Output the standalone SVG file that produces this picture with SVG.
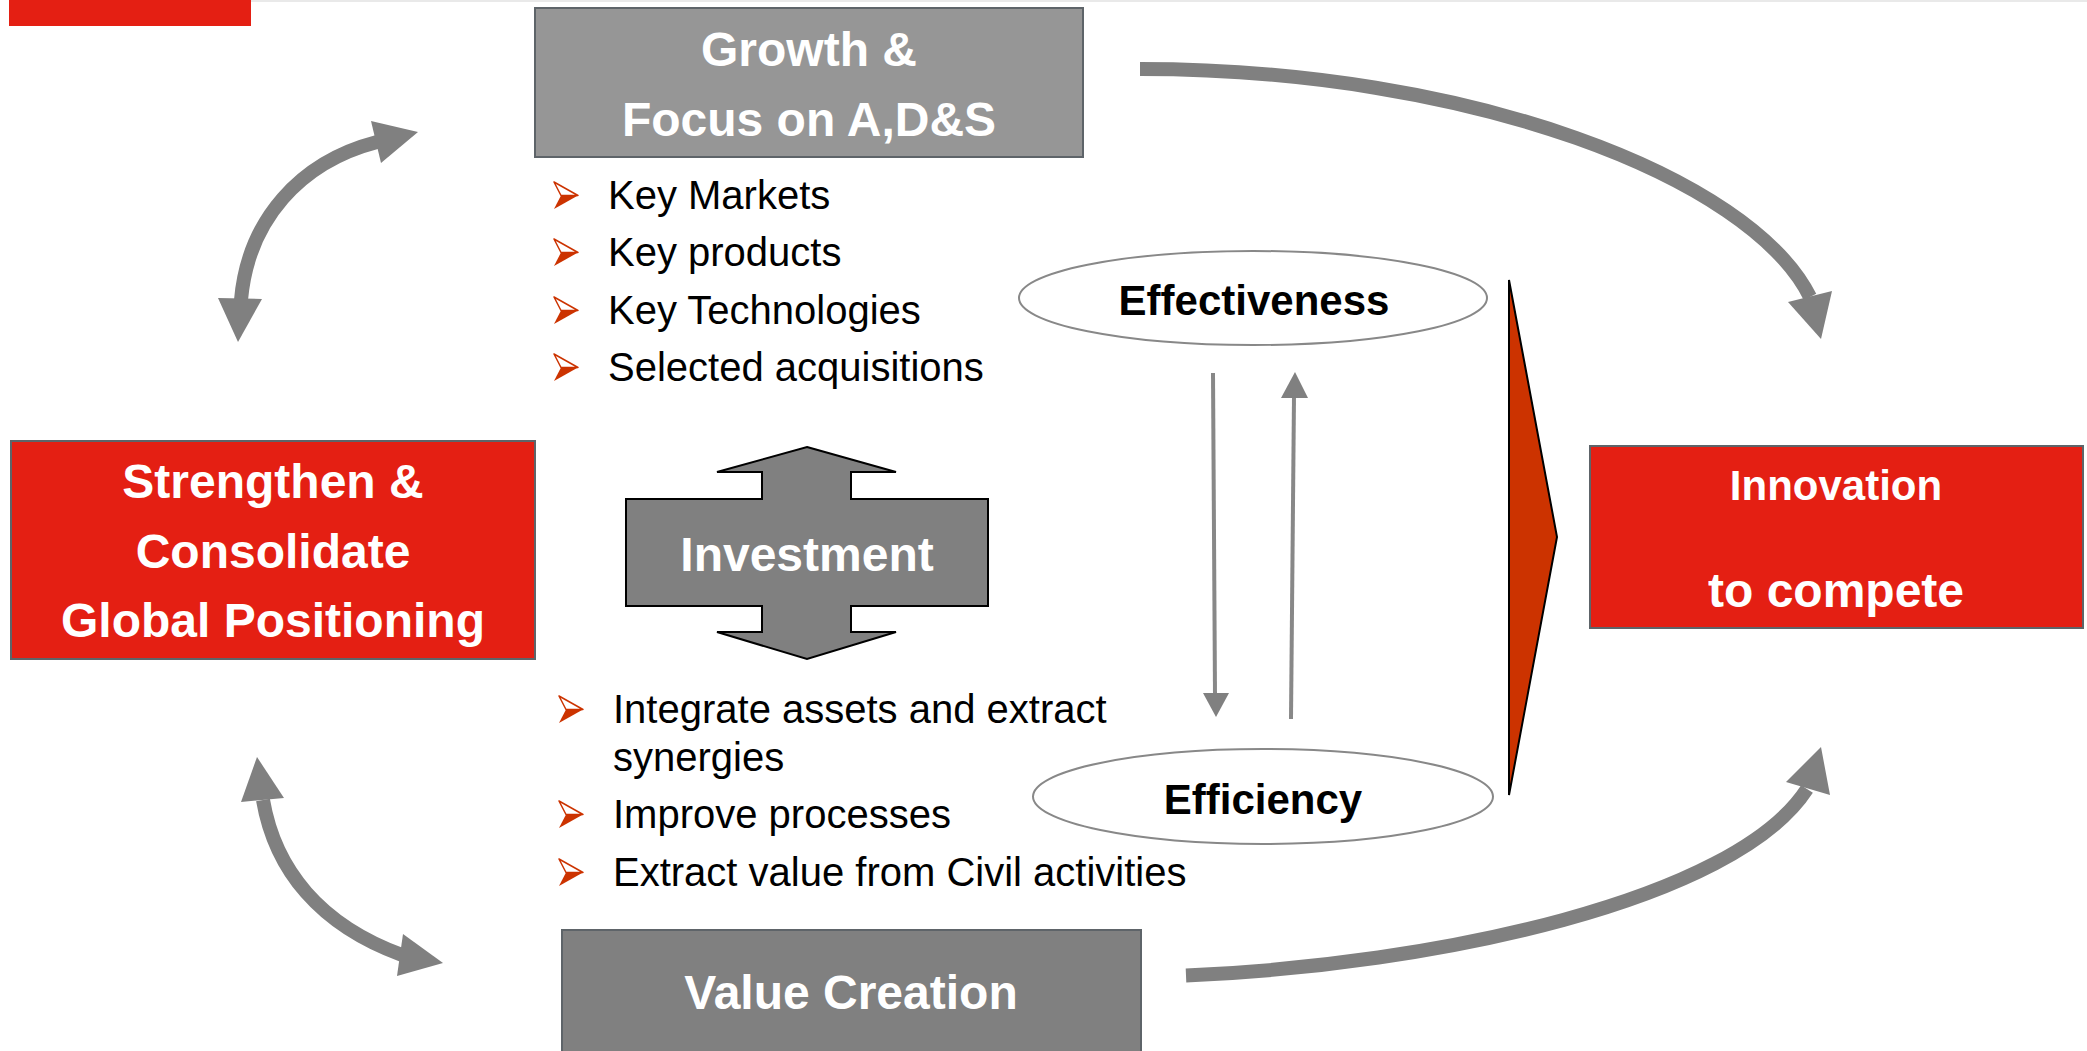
<svg xmlns="http://www.w3.org/2000/svg" xmlns:xlink="http://www.w3.org/1999/xlink" width="2087" height="1051" viewBox="0 0 2087 1051">
  <style>
    .hd { font-family: "Liberation Sans", Arial, sans-serif; font-weight: bold; fill: #ffffff; text-anchor: middle; }
    .lbl { font-family: "Liberation Sans", Arial, sans-serif; font-weight: bold; fill: #000000; text-anchor: middle; font-size: 42px; }
    .item { font-family: "Liberation Sans", Arial, sans-serif; font-size: 40px; fill: #000000; }
    .redbox { fill: #e41f13; stroke: #5e6469; stroke-width: 2; }
    .flow { fill: none; stroke: #808080; stroke-width: 14; }
    .thin { fill: none; stroke: #888888; stroke-width: 4; }
    .head { fill: #808080; }
    .oval { fill: #ffffff; stroke: #888888; stroke-width: 2; }
  </style>
  <defs>
    <!-- bullet glyph: outlined upper half, filled lower half -->
    <g id="bullet">
      <polygon points="0,0 24,13.5 7,13.5" fill="#ffffff" stroke="#cc3300" stroke-width="1.5" stroke-linejoin="round"/>
      <polygon points="7,13.5 24,13.5 0,27" fill="#cc3300"/>
    </g>
  </defs>

  <rect x="0" y="0" width="2087" height="1051" fill="#ffffff"/>
  <rect x="251" y="0" width="1836" height="2" fill="#e9e9e9"/>
  <rect id="corner-tab" x="9" y="0" width="242" height="26" fill="#e41f13"/>

  <!-- connectors -->
  <g id="connectors">
    <!-- Growth -> Innovation -->
    <path class="flow" d="M1140,69 C1470,69 1750,177 1810,297"/>
    <polygon class="head" points="1788,302 1832,291 1821,339"/>
    <!-- Value Creation -> Innovation -->
    <path class="flow" d="M1186,975.5 C1436,965 1735,900 1807,789"/>
    <polygon class="head" points="1786,782 1830,795 1821,747"/>
    <!-- Strengthen <-> Growth -->
    <path class="flow" d="M241,300 C248,220 300,162 377,142"/>
    <polygon class="head" points="371,121 381,163 418,132"/>
    <polygon class="head" points="218,298 262,299 238,342"/>
    <!-- Strengthen <-> Value Creation -->
    <path class="flow" d="M263,800 C275,870 320,925 402,955"/>
    <polygon class="head" points="241,802 284,798 257,757"/>
    <polygon class="head" points="403,934 397,976 443,963"/>
    <!-- Effectiveness <-> Efficiency -->
    <line class="thin" x1="1213" y1="373" x2="1215" y2="695"/>
    <polygon class="head" points="1203,693 1229,693 1216,717"/>
    <line class="thin" x1="1291" y1="719" x2="1294" y2="396"/>
    <polygon class="head" points="1281,398 1308,398 1295,372"/>
  </g>

  <g id="node-growth">
    <rect x="535" y="8" width="548" height="149" fill="#969696" stroke="#5e6469" stroke-width="2"/>
    <text class="hd" x="809" y="66" font-size="48">Growth &amp;</text>
    <text class="hd" x="809" y="136" font-size="48">Focus on A,D&amp;S</text>
  </g>

  <g id="growth-items">
    <use xlink:href="#bullet" x="554" y="182"/>
    <text class="item" x="608" y="209">Key Markets</text>
    <use xlink:href="#bullet" x="554" y="239"/>
    <text class="item" x="608" y="266">Key products</text>
    <use xlink:href="#bullet" x="554" y="297"/>
    <text class="item" x="608" y="324">Key Technologies</text>
    <use xlink:href="#bullet" x="554" y="354"/>
    <text class="item" x="608" y="381">Selected acquisitions</text>
  </g>

  <g id="node-strengthen">
    <rect class="redbox" x="11" y="441" width="524" height="218"/>
    <text class="hd" x="273" y="498" font-size="48">Strengthen &amp;</text>
    <text class="hd" x="273" y="568" font-size="48">Consolidate</text>
    <text class="hd" x="273" y="637" font-size="48">Global Positioning</text>
  </g>

  <g id="node-investment">
    <polygon points="807,447 896,472 851,472 851,499 988,499 988,606 851,606 851,632 896,632 807,659 717,632 762,632 762,606 626,606 626,499 762,499 762,472 717,472" fill="#808080" stroke="#000000" stroke-width="2" stroke-linejoin="miter"/>
    <text class="hd" x="807" y="571" font-size="48">Investment</text>
  </g>

  <g id="value-items">
    <use xlink:href="#bullet" x="559" y="696"/>
    <text class="item" x="613" y="723">Integrate assets and extract</text>
    <text class="item" x="613" y="771">synergies</text>
    <use xlink:href="#bullet" x="559" y="801"/>
    <text class="item" x="613" y="828">Improve processes</text>
    <use xlink:href="#bullet" x="559" y="859"/>
    <text class="item" x="613" y="886">Extract value from Civil activities</text>
  </g>

  <g id="node-value">
    <rect x="562" y="930" width="579" height="130" fill="#808080" stroke="#5e6469" stroke-width="2"/>
    <text class="hd" x="851" y="1009" font-size="48">Value Creation</text>
  </g>

  <g id="node-effectiveness">
    <ellipse class="oval" cx="1253" cy="298" rx="234" ry="47"/>
    <text class="lbl" x="1254" y="315">Effectiveness</text>
  </g>

  <g id="node-efficiency">
    <ellipse class="oval" cx="1263" cy="796.5" rx="230" ry="47.5"/>
    <text class="lbl" x="1263" y="814">Efficiency</text>
  </g>

  <g id="chevron">
    <polygon points="1509,280 1557,537 1509,795" fill="#cc3300" stroke="#000000" stroke-width="2" stroke-linejoin="miter"/>
  </g>

  <g id="node-innovation">
    <rect class="redbox" x="1590" y="446" width="493" height="182"/>
    <text class="hd" x="1836" y="500" font-size="42">Innovation</text>
    <text class="hd" x="1836" y="607" font-size="48">to compete</text>
  </g>
</svg>
